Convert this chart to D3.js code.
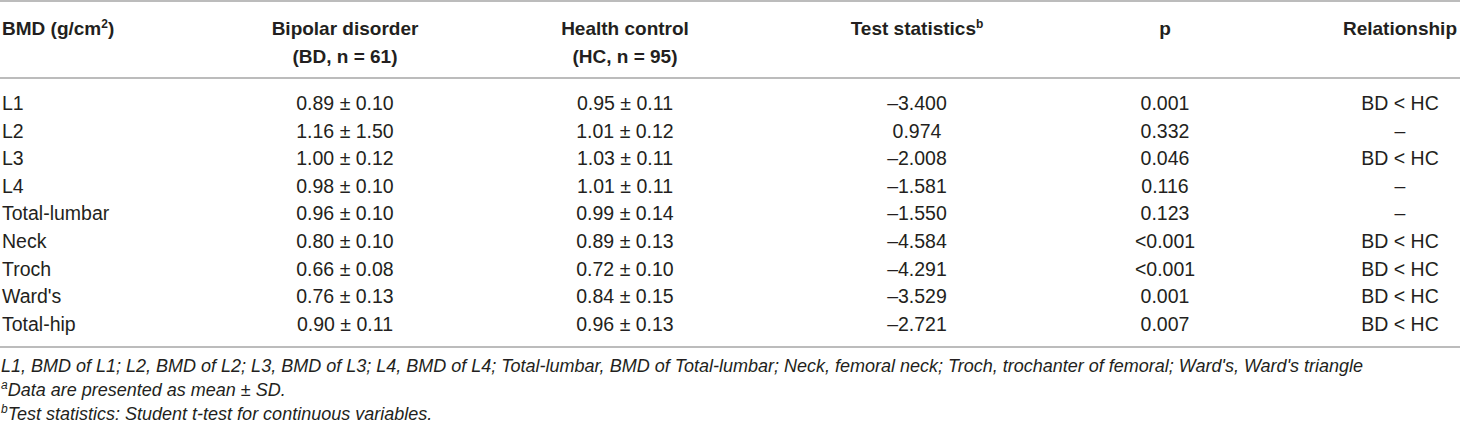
<!DOCTYPE html>
<html lang="en">
  <head>
    <meta charset="utf-8">
    <title>BMD table</title>
    <script type="text/javascript" src="https://d3js.org/d3.v7.min.js"></script>
    <style>
    html, body {
      margin:0;
      padding:0;
      background-color:#ffffff;
    }
    svg text {
      font-family:"Liberation Sans", Arial, sans-serif;
      fill:#231f20;
    }
    </style>
  </head>
  <body>
    <div id="table1"></div>
    <script type="text/javascript">
// 表のデータ
    const sites = ["L1", "L2", "L3", "L4", "Total-lumbar", "Neck", "Troch", "Ward's", "Total-hip"];
    const bdMean = [0.89, 1.16, 1.00, 0.98, 0.96, 0.80, 0.66, 0.76, 0.90];
    const bdSd = [0.10, 1.50, 0.12, 0.10, 0.10, 0.10, 0.08, 0.13, 0.11];
    const hcMean = [0.95, 1.01, 1.03, 1.01, 0.99, 0.89, 0.72, 0.84, 0.96];
    const hcSd = [0.11, 0.12, 0.11, 0.11, 0.14, 0.13, 0.10, 0.15, 0.13];
    const testStat = [-3.400, 0.974, -2.008, -1.581, -1.550, -4.584, -4.291, -3.529, -2.721];
    const pValues = ["0.001", "0.332", "0.046", "0.116", "0.123", "<0.001", "<0.001", "0.001", "0.007"];
    const relationship = ["BD < HC", "–", "BD < HC", "–", "–", "BD < HC", "BD < HC", "BD < HC", "BD < HC"];
    const columns = ["site", "bd", "hc", "stat", "p", "rel"];
    const headLine1 = ["BMD (g/cm", "Bipolar disorder", "Health control", "Test statistics", "p", "Relationship"];
    const headLine2 = ["", "(BD, n = 61)", "(HC, n = 95)", "", "", ""];
    const footnotes = [
      {sup: "", text: "L1, BMD of L1; L2, BMD of L2; L3, BMD of L3; L4, BMD of L4; Total-lumbar, BMD of Total-lumbar; Neck, femoral neck; Troch, trochanter of femoral; Ward's, Ward's triangle"},
      {sup: "a", text: "Data are presented as mean ± SD."},
      {sup: "b", text: "Test statistics: Student t-test for continuous variables."}
    ];

    const width = 1460, height = 426;
    const svg = d3.select("#table1").append("svg").attr("width", width).attr("height", height);

// 列の位置 (1列目は左寄せ、他は中央)
    const xScale = d3.scaleOrdinal().domain(columns).range([2, 345, 625, 917, 1165, 1400]);
    const yScale = d3.scaleLinear().domain([0, sites.length - 1]).range([110, 110 + 27.6 * (sites.length - 1)]);
    const fmt2 = d3.format(".2f");
    const fmt3 = v => d3.format(".3f")(v).replace("−", "–");

    const rows = sites.map((s, i) => ({
      site: s,
      bd: `${fmt2(bdMean[i])} ± ${fmt2(bdSd[i])}`,
      hc: `${fmt2(hcMean[i])} ± ${fmt2(hcSd[i])}`,
      stat: fmt3(testStat[i]),
      p: pValues[i],
      rel: relationship[i]
    }));

// 罫線
    const rules = [1, 78, 347];
    svg.selectAll("line.rule").data(rules).join("line").attr("class", "rule")
      .attr("x1", 0).attr("x2", width)
      .attr("y1", d => d).attr("y2", d => d)
      .attr("stroke", "#a6a6a6").attr("stroke-width", 1.6);

// ヘッダー
    const head = svg.append("g").attr("font-weight", "bold").attr("font-size", "19px");
    head.selectAll("text.h1").data(columns).join("text").attr("class", "h1")
      .attr("x", d => xScale(d)).attr("y", 35)
      .attr("text-anchor", (d, i) => i == 0 ? "start" : "middle")
      .each(function(d, i) {
        const t = d3.select(this);
        t.append("tspan").text(headLine1[i]);
        if (i == 0) {
          t.append("tspan").attr("dy", -7).attr("font-size", "12px").text("2");
          t.append("tspan").attr("dy", 7).text(")");
        }
        if (i == 3) {
          t.append("tspan").attr("dy", -7).attr("font-size", "12px").text("b");
        }
      });
    head.selectAll("text.h2").data(columns).join("text").attr("class", "h2")
      .attr("x", d => xScale(d)).attr("y", 63)
      .attr("text-anchor", (d, i) => i == 0 ? "start" : "middle")
      .text((d, i) => headLine2[i]);

// 本体
    const body = svg.append("g").attr("font-size", "19.5px");
    const rowG = body.selectAll("g.row").data(rows).join("g").attr("class", "row")
      .attr("transform", (d, i) => `translate(0,${yScale(i)})`);
    rowG.selectAll("text").data(d => columns.map(c => ({col: c, value: d[c]}))).join("text")
      .attr("x", d => xScale(d.col))
      .attr("text-anchor", d => d.col == "site" ? "start" : "middle")
      .text(d => d.value);

// 脚注
    const notes = svg.append("g").attr("font-style", "italic").attr("font-size", "18px");
    notes.selectAll("text").data(footnotes).join("text")
      .attr("x", 1).attr("y", (d, i) => 372 + 24 * i)
      .each(function(d) {
        const t = d3.select(this);
        if (d.sup) {
          t.append("tspan").attr("dy", -7).attr("font-size", "12px").text(d.sup);
          t.append("tspan").attr("dy", 7).text(d.text);
        } else {
          t.append("tspan").text(d.text);
        }
      });
    </script>
  </body>
</html>
